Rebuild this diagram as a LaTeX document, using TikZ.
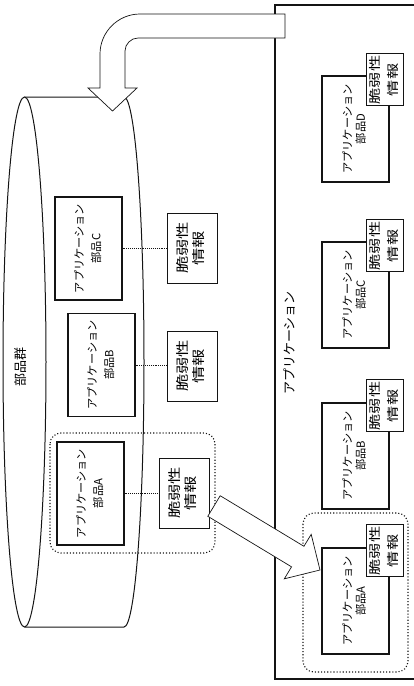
\documentclass[tikz,border=0pt]{standalone}
\usepackage{fontspec}
\newfontfamily\jpfont{Noto Sans CJK JP}
\usepackage{tikz}
\usetikzlibrary{calc}
\definecolor{ink}{RGB}{20,20,20}
\tikzset{
  part/.style={draw=ink,line width=1.1pt,fill=white,minimum width=67pt,minimum height=103pt,
    inner sep=0pt,font=\jpfont\fontsize{11.2}{17}\selectfont},
  rpart/.style={part,minimum height=106pt,font=\jpfont\fontsize{11.2}{12.5}\selectfont},
  vuln/.style={draw=ink,line width=0.9pt,fill=white,minimum width=50pt,minimum height=70pt,
    inner sep=0pt,font=\jpfont\fontsize{13}{16}\selectfont},
  rvuln/.style={vuln,minimum width=37pt,minimum height=52pt,font=\jpfont\fontsize{12}{18}\selectfont},
  link/.style={draw=ink,densely dotted,line width=0.9pt},
  grp/.style={draw=ink,dotted,line width=1.1pt,rounded corners=11pt},
  fat/.style={draw=ink,line width=0.7pt,fill=white},
  lbl/.style={inner sep=0pt,font=\jpfont\fontsize{13}{15}\selectfont},
}
\newcommand{\vtext}[2][1]{\rotatebox{90}{\scalebox{#1}[1]{\begin{tabular}{@{}c@{}}#2\end{tabular}}}}

\begin{document}
\begin{tikzpicture}[x=1pt,y=-1pt]
\useasboundingbox (0,0) rectangle (413,686);
\draw[ink,line width=1pt] (24.5,362) ellipse [x radius=21.5pt,y radius=265pt];
\draw[ink,line width=1pt] (24.5,97) -- (124,97) arc[start angle=90,end angle=-90,x radius=20pt,y radius=265pt] -- (24.5,627);
\node[lbl] (grpname) at (22,367) {\vtext{部品群}};
\draw[grp] (50,433) rectangle (215,553);
\node[part] (pC) at (88.5,248.5) {\vtext{アプリケーション\\部品C}};
\node[part] (pB) at (101.5,365) {\vtext{アプリケーション\\部品B}};
\node[part] (pA) at (90.5,493.5) {\vtext{アプリケーション\\部品A}};
\node[vuln] (vC) at (192,248) {\vtext[1.33]{脆弱性\\情報}};
\node[vuln] (vB) at (192,366) {\vtext[1.33]{脆弱性\\情報}};
\node[vuln] (vA) at (184,493) {\vtext[1.33]{脆弱性\\情報}};
\draw[link] (pC.east) -- (pC.east -| vC.west);
\draw[link] (pB.east) -- (pB.east -| vB.west);
\draw[link] (pA.east) -- (pA.east -| vA.west);
\draw[ink,line width=1.2pt] (414,5) -- (275,5) -- (275,679) -- (414,679);
\node[lbl] (appname) at (291,343) {\vtext{アプリケーション}};
\draw[grp] (303,513) rectangle (408,672);
\node[rpart] (rD) at (355.5,129) {\vtext{アプリケーション\\部品D}};
\node[rpart] (rC) at (355.5,295) {\vtext{アプリケーション\\部品C}};
\node[rpart] (rB) at (355.5,456) {\vtext{アプリケーション\\部品B}};
\node[rpart] (rA) at (355.5,601) {\vtext{アプリケーション\\部品A}};
\node[rvuln,anchor=north east] (rvD) at ($(rD.north east)+(14,-22)$) {\vtext[1.35]{脆弱性\\情報}};
\node[rvuln,anchor=north east] (rvC) at ($(rC.north east)+(14,-22)$) {\vtext[1.35]{脆弱性\\情報}};
\node[rvuln,anchor=north east] (rvB) at ($(rB.north east)+(14,-23)$) {\vtext[1.35]{脆弱性\\情報}};
\node[rvuln,anchor=north east] (rvA) at ($(rA.north east)+(14,-23)$) {\vtext[1.35]{脆弱性\\情報}};
\draw[fat] (285,38) -- (285,14) -- (140,14) .. controls (118,14) and (100,32) .. (100,54)
  -- (100,88) -- (88,88) -- (112.5,111) -- (137,88) -- (125,88) -- (125,51)
  .. controls (125,44) and (131,38) .. (138,38) -- cycle;
\coordinate (aT) at (214,506);
\coordinate (aP) at (320,570);
\coordinate (aH) at ($(aP)!26pt!(aT)$);
\draw[fat] ($(aT)!12pt!90:(aP)$) -- ($(aH)!12pt!90:(aP)$) -- ($(aH)!26pt!90:(aP)$) -- (aP)
  -- ($(aH)!26pt!-90:(aP)$) -- ($(aH)!12pt!-90:(aP)$) -- ($(aT)!12pt!-90:(aP)$) -- cycle;
\end{tikzpicture}
\end{document}
